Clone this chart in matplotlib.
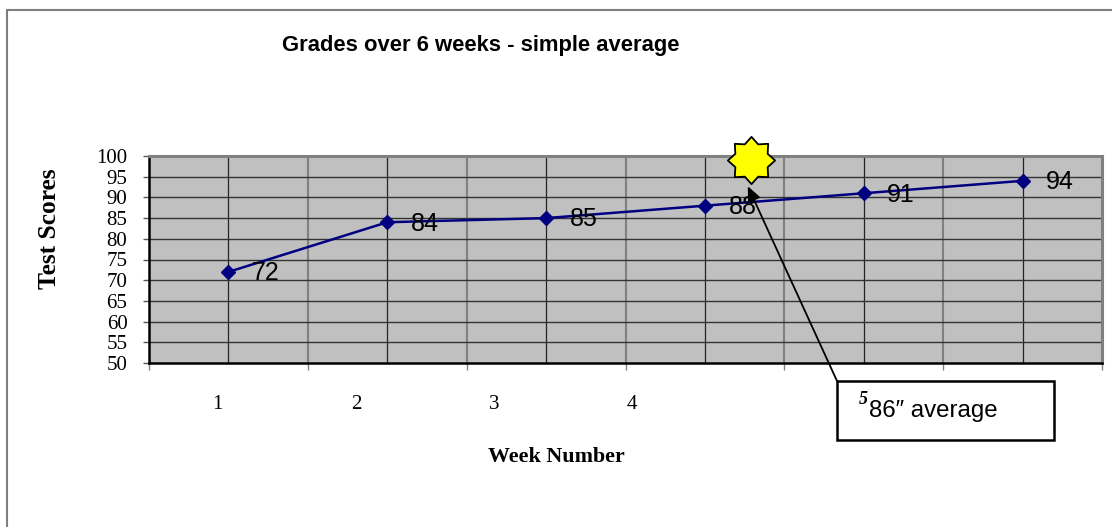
import numpy as np
import matplotlib
matplotlib.use("Agg")
import matplotlib.pyplot as plt
from matplotlib.path import Path
from matplotlib.patches import Rectangle

# data
weeks = [1, 2, 3, 4, 5, 6]
scores = [72, 84, 85, 88, 91, 94]
week_labels = ["1", "2", "3", "4"]
title = "Grades over 6 weeks - simple average"
note = "86\u2033 average"

W, H = 1112, 527
fig = plt.figure(figsize=(W / 100, H / 100), dpi=100)
fig.patch.set_facecolor("white")

# outer frame (only left and top edges fall inside the picture)
fig.patches.append(Rectangle((7 / W, -0.1), 1.2, 1 - 10 / H + 0.1, transform=fig.transFigure,
                             fill=False, edgecolor="#7f7f7f", lw=1.5))

ax = fig.add_axes([149 / W, 1 - 363 / H, (1102 - 149) / W, (363 - 156) / H])
ax.set_facecolor("#c0c0c0")
ax.set_xlim(0.5, 6.5)
ax.set_ylim(50, 100)

# grid
for x in weeks:
    ax.axvline(x, color="#222222", lw=0.9, zorder=1)
for x in np.arange(1.5, 6.5, 1):
    ax.axvline(x, color="#808080", lw=1.5, zorder=1)
for y in range(55, 100, 5):
    ax.axhline(y, color="#333333", lw=1.0, zorder=1)

for side in ["left", "bottom"]:
    ax.spines[side].set_color("black")
    ax.spines[side].set_linewidth(1.8)
for side in ["top", "right"]:
    ax.spines[side].set_color("#808080")
    ax.spines[side].set_linewidth(2.2)

# y axis
ax.set_yticks(range(50, 101, 5))
ax.tick_params(axis="y", length=4.5, width=1, color="#555555", pad=11,
               labelsize=15)
for lab in ax.get_yticklabels():
    lab.set_fontfamily("Liberation Serif")

# x axis: tick marks at category boundaries, labels drawn off-centre like the original
ax.set_xticks(np.arange(0.5, 6.6, 1), minor=True)
ax.tick_params(axis="x", which="minor", length=5, width=1, color="#808080")
label_pos = [0.93, 1.805, 2.673, 3.541]
ax.set_xticks(label_pos)
ax.set_xticklabels(week_labels, fontfamily="Liberation Serif", fontsize=15)
ax.tick_params(axis="x", which="major", length=0, pad=23)

# series
ax.plot(weeks, scores, color="#000080", lw=1.8, marker="D", ms=6.8,
        mfc="#000080", mec="#000080", zorder=3)
for x, y in zip(weeks, scores):
    ax.annotate(str(y), (x, y), xytext=(17, -1), textcoords="offset points",
                ha="left", va="center", fontsize=18, family="Liberation Sans",
                zorder=4)

# titles
fig.text(481 / W, 1 - 45 / H, title, ha="center", va="center", fontsize=15.8,
         fontweight="bold", family="Liberation Sans")
fig.text(556 / W, 1 - 457 / H, "Week Number", ha="center", va="center",
         fontsize=15.8, fontweight="bold", family="Liberation Serif")
fig.text(50 / W, 1 - 229 / H, "Test Scores", ha="center", va="center",
         rotation=90, fontsize=18.3, fontweight="bold", family="Liberation Serif")

# star
n = 8
ang = np.pi / 2 + np.arange(2 * n) * np.pi / n
rad = np.where(np.arange(2 * n) % 2 == 0, 1.0, 0.74)
verts = np.column_stack([rad * np.cos(ang), rad * np.sin(ang)])
verts = np.vstack([verts, verts[:1]])
codes = [Path.MOVETO] + [Path.LINETO] * (2 * n - 1) + [Path.CLOSEPOLY]
star = Path(verts, codes)
ax.plot([4.29], [99.0], marker=star, ms=34, mfc="#ffff00", mec="black",
        mew=1.3, clip_on=False, zorder=6)

# callout box and arrow
bx0, by0, bx1, by1 = 837, 381, 1054, 440
fig.patches.append(Rectangle((bx0 / W, 1 - by1 / H), (bx1 - bx0) / W, (by1 - by0) / H,
                             transform=fig.transFigure, facecolor="white",
                             edgecolor="black", lw=1.8, zorder=5))
ax.annotate("", xy=(4.27, 92.7), xytext=(bx0 / W, 1 - by0 / H),
            textcoords="figure fraction", xycoords="data",
            arrowprops=dict(arrowstyle="-|>,head_length=0.9,head_width=0.4",
                            color="black", lw=1.3, shrinkA=0, shrinkB=0),
            annotation_clip=False, zorder=7)
fig.text(859 / W, 1 - 400 / H, "5", ha="left", va="center", fontsize=13,
         fontweight="bold", fontstyle="italic", family="Liberation Serif", zorder=8)
fig.text(869 / W, 1 - 411 / H, note, ha="left", va="center", fontsize=17.3,
         family=["Liberation Sans", "DejaVu Sans"], zorder=8)

fig.savefig("out.png", dpi=100)
